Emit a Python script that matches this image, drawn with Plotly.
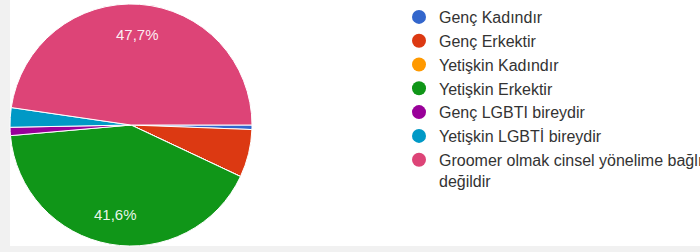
import math
import plotly.graph_objects as go

labels = ["Genç Kadındır", "Genç Erkektir", "Yetişkin Kadındır", "Yetişkin Erkektir",
          "Genç LGBTI bireydir", "Yetişkin LGBTİ bireydir",
          "Groomer olmak cinsel yönelime bağlı<br>değildir"]
values = [0.6, 6.4, 0.0, 41.6, 1.1, 2.6, 47.7]
slice_text = ["", "", "", "41,6%", "", "", "47,7%"]
colors = ["#3366cc", "#dc3912", "#ff9900", "#109618", "#990099", "#0099c6", "#dd4477"]

W, H = 700, 252
FONT = "Liberation Sans, Arial, sans-serif"
dom_x = [10 / W, 252 / W]
dom_y = [6 / H, 248 / H]

fig = go.Figure()
fig.add_trace(go.Pie(
    labels=labels, values=values, textinfo="none",
    sort=False, direction="clockwise", rotation=90,
    marker=dict(colors=colors, line=dict(color="white", width=1)),
    showlegend=False, hoverinfo="label+percent",
    domain=dict(x=dom_x, y=dom_y),
))

# slice labels placed along each slice's mid-angle (Google-charts style)
cx_px = (dom_x[0] + dom_x[1]) / 2 * W
cy_px = (1 - (dom_y[0] + dom_y[1]) / 2) * H
r_px = min((dom_x[1] - dom_x[0]) * W, (dom_y[1] - dom_y[0]) * H) / 2
total = sum(values)
cum = 0.0
for v, t in zip(values, slice_text):
    mid = (cum + v / 2) / total * 2 * math.pi
    cum += v
    if not t:
        continue
    px = cx_px + 0.75 * r_px * math.cos(mid)
    py = cy_px + 0.75 * r_px * math.sin(mid)
    fig.add_annotation(x=px / W, y=1 - py / H, xref="paper", yref="paper",
                       xanchor="center", yanchor="middle",
                       text=t, showarrow=False,
                       font=dict(color="rgba(255,255,255,0.92)", size=15, family=FONT))

for lab, col in zip(labels, colors):
    fig.add_trace(go.Scatter(
        x=[None], y=[None], mode="markers", name=lab,
        marker=dict(color=col, size=14, symbol="circle"),
        showlegend=True, hoverinfo="skip",
    ))

fig.update_layout(
    width=W, height=H,
    margin=dict(l=0, r=0, t=0, b=0, autoexpand=False),
    paper_bgcolor="#f1f1f1",
    plot_bgcolor="rgba(0,0,0,0)",
    xaxis=dict(visible=False), yaxis=dict(visible=False),
    legend=dict(x=399 / W, y=1, xanchor="left", yanchor="top",
                font=dict(size=16, color="#333333", family=FONT),
                bgcolor="rgba(0,0,0,0)", traceorder="normal", tracegroupgap=0,
                valign="top", itemclick=False),
    shapes=[dict(type="rect", xref="paper", yref="paper", x0=10 / W, x1=1,
                 y0=6 / H, y1=1, fillcolor="white", line=dict(width=0), layer="below")],
)

fig.write_html("out.html", config={"displayModeBar": False},
               post_script="document.body.style.margin='0';")
